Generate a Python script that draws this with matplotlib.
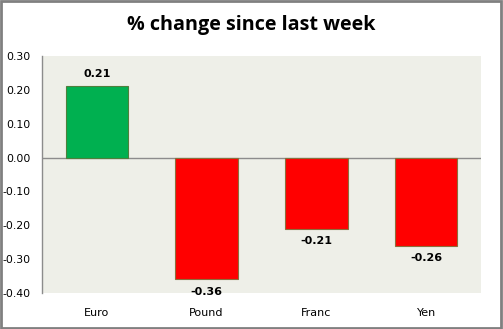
import matplotlib.pyplot as plt
import numpy as np

# weekly % change per currency
currencies = ['Euro', 'Pound', 'Franc', 'Yen']
changes = [0.21, -0.36, -0.21, -0.26]
yticks = [0.30, 0.20, 0.10, 0.00, -0.10, -0.20, -0.30, -0.40]

fig = plt.figure(figsize=(5.03, 3.29), dpi=100)
ax = fig.add_axes([42 / 503, 1 - 293 / 329, (481 - 42) / 503, (293 - 56) / 329])

x = np.arange(len(currencies))
colors = ['#00B050' if v > 0 else '#FF0000' for v in changes]
edges = ['#4F7F3C' if v > 0 else '#8B6E3C' for v in changes]
ax.bar(x, changes, width=0.57, color=colors, edgecolor=edges, linewidth=0.8, zorder=3)

# value labels above / below each bar
for xi, v in zip(x, changes):
    if v > 0:
        ax.text(xi, v + 0.022, '%.2f' % v, ha='center', va='bottom',
                fontsize=8, fontweight='bold', clip_on=False)
    else:
        ax.text(xi, v - 0.022, '%.2f' % v, ha='center', va='top',
                fontsize=8, fontweight='bold', clip_on=False)

ax.axhline(0, color='#8C8C8C', linewidth=1, zorder=2)
ax.set_xlim(-0.5, len(currencies) - 0.5)
ax.set_ylim(-0.40, 0.30)
ax.set_yticks(yticks)
ax.set_yticklabels(['%.2f' % t for t in yticks], fontsize=7.8)
ax.set_xticks(x)
ax.set_xticklabels(currencies, fontsize=8)
ax.tick_params(axis='y', length=0, pad=8)
ax.tick_params(axis='x', length=0, pad=11)

ax.set_facecolor('#EEEFE8')
for s in ['top', 'right', 'bottom']:
    ax.spines[s].set_visible(False)
ax.spines['left'].set_color('#8C8C8C')
ax.spines['left'].set_linewidth(1)

fig.text(0.5, 1 - 25 / 329, '% change since last week', ha='center', va='center',
         fontsize=14.2, fontweight='bold', family='Open Sans')

# grey chart border
fig.patches.append(plt.Rectangle((0.002, 0.003), 0.995, 0.994, transform=fig.transFigure,
                                 fill=False, edgecolor='#808080', linewidth=2))

fig.savefig('out.png', dpi=100)
